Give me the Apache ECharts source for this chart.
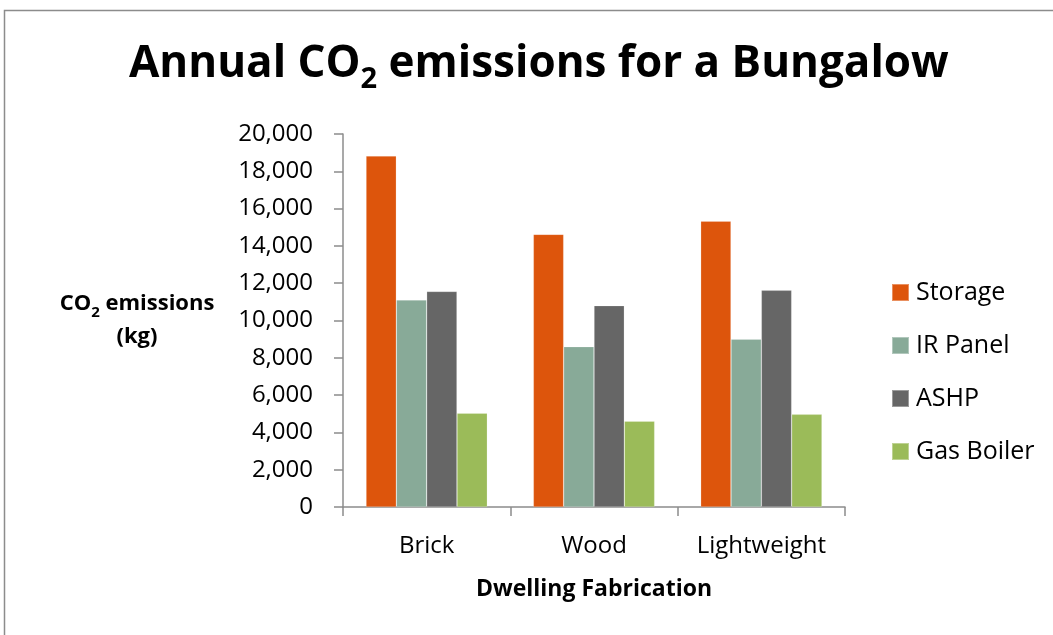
<!DOCTYPE html>
<html>
<head>
<meta charset="utf-8">
<script src="https://cdn.jsdelivr.net/npm/echarts@6/dist/echarts.min.js"></script>
<style>
  html, body { margin: 0; padding: 0; background: #ffffff; }
  #chart { width: 1053px; height: 635px; }
</style>
</head>
<body>
<div id="chart"></div>
<script>
// Dwelling types on the x axis
const categories = ['Brick', 'Wood', 'Lightweight'];

// Annual CO2 emissions (kg) per heating system
const storage   = [18820, 14620, 15330];
const irPanel   = [11100, 8600, 9000];
const ashp      = [11560, 10800, 11620];
const gasBoiler = [5030, 4600, 4970];

const seriesNames = ['Storage', 'IR Panel', 'ASHP', 'Gas Boiler'];
const seriesColors = ['#DD550C', '#88AA98', '#666666', '#9BBB59'];
const seriesData = [storage, irPanel, ashp, gasBoiler];

const FONT = '"Open Sans", sans-serif';

const chart = echarts.init(document.getElementById('chart'), null, { renderer: 'canvas' });

chart.setOption({
  animation: false,
  backgroundColor: '#ffffff',
  graphic: [{
    type: 'rect',
    shape: { x: 4.5, y: 10.5, width: 1100, height: 700 },
    style: { fill: 'none', stroke: '#8c8c8c', lineWidth: 1.5 },
    silent: true
  }],
  title: {
    text: '{a|Annual CO}{s|2}{a| emissions for a Bungalow}',
    left: 129,
    top: 34,
    padding: 0,
    textStyle: {
      rich: {
        a: { fontFamily: FONT, fontWeight: 'bold', fontSize: 44, lineHeight: 60, color: '#000000' },
        s: { fontFamily: FONT, fontWeight: 'bold', fontSize: 29, lineHeight: 24, color: '#000000', verticalAlign: 'bottom' }
      }
    }
  },
  legend: {
    orient: 'vertical',
    left: 891,
    top: 280,
    padding: 0,
    itemWidth: 17,
    itemHeight: 17,
    itemGap: 28,
    icon: 'rect',
    textStyle: { fontFamily: FONT, fontSize: 25, color: '#000000', padding: [0, 0, 0, 2] },
    data: seriesNames
  },
  grid: { left: 343, right: 208, top: 134, bottom: 128 },
  xAxis: {
    type: 'category',
    data: categories,
    axisLine: { lineStyle: { color: '#8c8c8c', width: 1.5 } },
    axisTick: { show: true, length: 9, inside: false, lineStyle: { color: '#8c8c8c', width: 1.5 } },
    axisLabel: { fontFamily: FONT, fontSize: 24, color: '#000000', margin: 27, interval: 0, hideOverlap: false },
    name: 'Dwelling Fabrication',
    nameLocation: 'middle',
    nameGap: 71,
    nameTextStyle: { fontFamily: FONT, fontSize: 23, fontWeight: 'bold', color: '#000000' }
  },
  yAxis: {
    type: 'value',
    min: 0,
    max: 20000,
    interval: 2000,
    axisLine: { show: true, lineStyle: { color: '#8c8c8c', width: 1.5 } },
    axisTick: { show: true, length: 9, lineStyle: { color: '#8c8c8c', width: 1.5 } },
    splitLine: { show: false },
    axisLabel: {
      fontFamily: FONT, fontSize: 24, color: '#000000', margin: 30,
      formatter: v => v.toLocaleString('en-US')
    },
    name: '{b|CO}{s|2}{b| emissions}\n{b|(kg)}',
    nameLocation: 'middle',
    nameRotate: 0,
    nameGap: 206,
    nameTextStyle: {
      align: 'center',
      rich: {
        b: { fontFamily: FONT, fontSize: 22, fontWeight: 'bold', color: '#000000', lineHeight: 33 },
        s: { fontFamily: FONT, fontSize: 15, fontWeight: 'bold', color: '#000000', verticalAlign: 'bottom', lineHeight: 19 }
      }
    }
  },
  series: seriesNames.map((name, i) => ({
    name: name,
    type: 'bar',
    data: seriesData[i],
    barGap: '0%',
    barCategoryGap: '27.5%',
    itemStyle: { color: seriesColors[i], borderColor: 'rgba(255,255,255,0.35)', borderWidth: 0.6 }
  }))
});
</script>
</body>
</html>
